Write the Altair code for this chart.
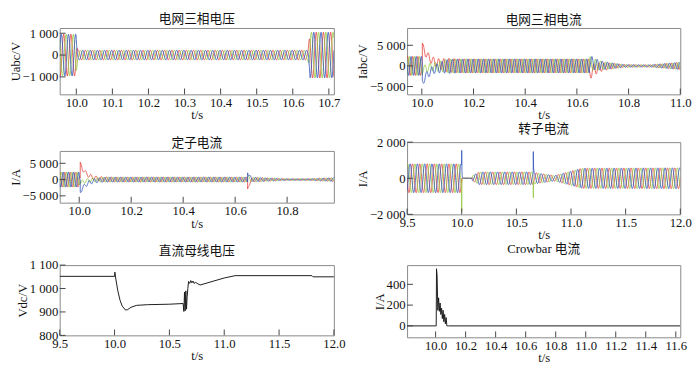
import numpy as np
import pandas as pd
import altair as alt

RED, GREEN, BLUE = "#e5403a", "#92c83e", "#2f52b8"
FONT = "Liberation Serif"
CJK = "Liberation Serif, Noto Sans CJK SC"
PHASES = ["a", "b", "c"]

# ---------- panel titles / axis titles ----------
titles = ["电网三相电压", "电网三相电流", "定子电流", "转子电流", "直流母线电压", "Crowbar 电流"]
ytitles = ["Uabc/V", "Iabc/V", "I/A", "I/A", "Vdc/V", "I/A"]

# ---------- 1: grid voltage (50 Hz), envelope ----------
v_env_t = [9.95, 9.999, 10.004, 10.642, 10.648, 10.72]
v_env_a = [960, 960, 220, 220, 1050, 1050]
v_events = []  # (t0, tau, offsets a,b,c)

# ---------- 2: grid current ----------
ig_env_t = [9.94, 9.999, 10.003, 10.05, 10.1, 10.648, 10.7, 10.78, 10.88, 11.0]
ig_env_a = [2300, 2300, 900, 1000, 1700, 1700, 1000, 350, 250, 900]
ig_events = [(10.002, 0.03, [4800, -900, -4000]), (10.648, 0.025, [-1800, 700, 1100])]

# ---------- 3: stator current ----------
is_env_t = [9.92, 9.999, 10.004, 10.1, 10.648, 10.7, 10.8, 10.88, 10.98]
is_env_a = [2300, 2300, 600, 750, 750, 600, 200, 200, 600]
is_events = [(10.004, 0.025, [4800, -1000, -3800]), (10.648, 0.006, [-3300, 600, 2800])]

# ---------- 4: rotor current (slip frequency) ----------
ir_env_t = [9.5, 9.999, 10.001, 10.09, 10.1, 10.16, 10.64, 10.7, 10.85, 11.1, 12.0]
ir_env_a = [800, 800, 0, 0, 150, 350, 350, 280, 150, 560, 580]
ir_events = [(10.0, 0.002, [0, -1500, 1200]), (10.655, 0.002, [100, -1100, 1200])]

# ---------- 5: DC bus voltage ----------
dc_t = [9.5, 10.0, 10.003, 10.01, 10.03, 10.05, 10.07, 10.1, 10.12, 10.15, 10.2, 10.3, 10.5, 10.625,
        10.632, 10.638, 10.644, 10.65, 10.656, 10.662, 10.668, 10.675, 10.685, 10.695, 10.705,
        10.715, 10.725, 10.74, 10.76, 10.78, 11.0, 11.1, 11.8, 11.81, 12.0]
dc_v = [1052, 1052, 1070, 1045, 990, 950, 925, 908, 910, 920, 928, 931, 933, 936,
        902, 985, 905, 990, 912, 965, 1000, 1030, 1022, 1034, 1024,
        1032, 1022, 1026, 1020, 1015, 1045, 1055, 1055, 1050, 1050]

# ---------- 6: crowbar current ----------
cb_t = [9.81, 10.004, 10.006, 10.01, 10.015, 10.02, 10.025, 10.03, 10.035, 10.04, 10.045,
        10.05, 10.055, 10.06, 10.065, 10.07, 10.075, 10.08, 10.085, 11.63]
cb_v = [0, 0, 550, 480, 150, 270, 140, 220, 110, 170, 70, 150, 40, 110, 20, 80, 0, 0, 0, 0]

F_GRID = 50.0
F_ROTOR = 15.0


def three_phase(t0, t1, dt, f, env_t, env_a, events):
    t = np.arange(t0, t1 + dt / 2, dt)
    t = np.union1d(t, [e[0] for e in events])
    amp = np.interp(t, env_t, env_a)
    frames = []
    for k, ph in enumerate(PHASES):
        v = amp * np.sin(2 * np.pi * f * t - 2 * np.pi * k / 3)
        for (te, tau, offs) in events:
            m = t >= te
            v[m] += offs[k] * np.exp(-(t[m] - te) / tau)
        frames.append(pd.DataFrame({"t": np.round(t, 5), "v": np.round(v, 1), "ph": ph}))
    return pd.concat(frames, ignore_index=True)


YLAB = "replace(format(datum.value, ','), ',', ' ')"


def panel(df, xdom, ydom, xticks, yticks, w, h, title, ytitle, toff, colored=True):
    x = alt.X("t:Q", scale=alt.Scale(domain=xdom, nice=False, zero=False),
              axis=alt.Axis(values=xticks, format=".1f", title="t/s", ticks=False, domain=False,
                            grid=False, labelFlush=False, titlePadding=0))
    y = alt.Y("v:Q", scale=alt.Scale(domain=ydom, nice=False, zero=False),
              axis=alt.Axis(values=yticks, labelExpr=YLAB, title=ytitle, ticks=False, domain=False,
                            grid=False, labelFlush=False, titlePadding=0))
    if colored:
        line = alt.Chart(df).mark_line(strokeWidth=0.8, clip=True).encode(
            x=x, y=y,
            color=alt.Color("ph:N", scale=alt.Scale(domain=PHASES, range=[RED, GREEN, BLUE]), legend=None))
    else:
        line = alt.Chart(df).mark_line(color="#1a1a1a", strokeWidth=1, clip=True).encode(x=x, y=y)
    xt = alt.Chart(pd.DataFrame({"t": xticks})).mark_rule(color="#444", strokeWidth=1).encode(
        x=x, y=alt.value(h), y2=alt.value(h - 6))
    yt = alt.Chart(pd.DataFrame({"v": yticks})).mark_rule(color="#444", strokeWidth=1).encode(
        y=y, x=alt.value(0), x2=alt.value(6))
    return alt.layer(line, xt, yt).properties(
        width=w, height=h, title=alt.TitleParams(title, offset=toff))


df1 = three_phase(9.954, 10.714, 0.001, F_GRID, v_env_t, v_env_a, v_events)
df2 = three_phase(9.943, 11.0, 0.001, F_GRID, ig_env_t, ig_env_a, ig_events)
df3 = three_phase(9.925, 10.98, 0.001, F_GRID, is_env_t, is_env_a, is_events)
df4 = three_phase(9.5, 12.0, 0.002, F_ROTOR, ir_env_t, ir_env_a, ir_events)
df5 = pd.DataFrame({"t": dc_t, "v": dc_v})
df6 = pd.DataFrame({"t": cb_t, "v": cb_v})

p1 = panel(df1, [9.954, 10.714], [-1800, 1240], [10.0, 10.1, 10.2, 10.3, 10.4, 10.5, 10.6, 10.7],
           [-1000, 0, 1000], 281, 68, titles[0], ytitles[0], 1)
p2 = panel(df2, [9.943, 11.0], [-6900, 9200], [10.0, 10.2, 10.4, 10.6, 10.8, 11.0],
           [-5000, 0, 5000], 280, 68, titles[1], ytitles[1], 1)
p3 = panel(df3, [9.925, 10.98], [-7100, 8800], [10.0, 10.2, 10.4, 10.6, 10.8],
           [-5000, 0, 5000], 281, 53, titles[2], ytitles[2], 1)
p4 = panel(df4, [9.5, 12.0], [-2000, 2000], [9.5, 10.0, 10.5, 11.0, 11.5, 12.0],
           [-2000, 0, 2000], 280, 74, titles[3], ytitles[3], 0)
p5 = panel(df5, [9.5, 12.0], [800, 1100], [9.5, 10.0, 10.5, 11.0, 11.5, 12.0],
           [800, 900, 1000, 1100], 281, 72, titles[4], ytitles[4], 1, colored=False)
p6 = panel(df6, [9.81, 11.63], [-110, 585], [10.0, 10.2, 10.4, 10.6, 10.8, 11.0, 11.2, 11.4, 11.6],
           [0, 200, 400], 280, 74, titles[5], ytitles[5], 9, colored=False)

left = alt.vconcat(p1, p3, p5, spacing=14)
right = alt.vconcat(p2, p4, p6, spacing=0)

chart = alt.hconcat(left, right, spacing=10).properties(
    padding={"left": 0, "top": 0, "right": 0, "bottom": 0}
).configure_view(
    stroke="#888", strokeWidth=1
).configure_axis(
    labelFont=FONT, labelFontSize=13, labelColor="#111", labelPadding=2,
    titleFont=FONT, titleFontSize=13, titleFontWeight="normal", titleColor="#111"
).configure_title(
    font=CJK, fontSize=13, fontWeight="normal", color="#111", anchor="middle"
)

chart.save("out.html", embed_options={"renderer": "svg", "actions": False})
